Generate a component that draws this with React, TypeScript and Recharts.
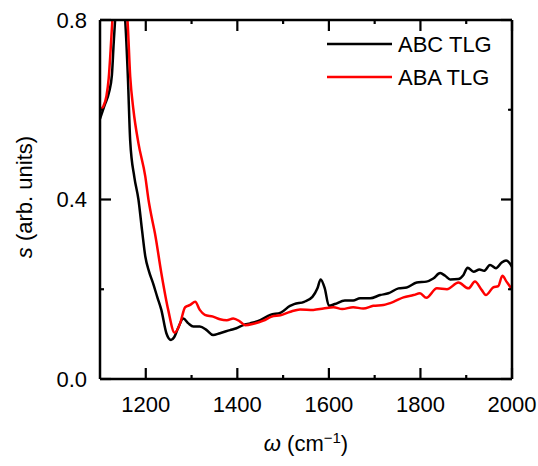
import { LineChart, Line, XAxis, YAxis, Legend, ReferenceDot } from "recharts";

// ABC-stacked trilayer graphene
const abcW = [
  1100, 1110, 1120, 1126, 1130, 1133, 1140, 1148, 1155, 1161, 1166, 1175,
  1184, 1192, 1199, 1207, 1216, 1225, 1234, 1245, 1255, 1262, 1270, 1282, 1293,
  1304, 1318, 1333, 1347, 1362, 1384, 1398, 1413, 1428, 1450, 1472, 1495, 1515,
  1524, 1546, 1564, 1575, 1582, 1591, 1600, 1613, 1635, 1653, 1668, 1690, 1712,
  1730, 1752, 1770, 1792, 1813, 1828, 1843, 1854, 1865, 1883, 1894, 1903, 1916,
  1929, 1939, 1952, 1965, 1977, 1987, 1995, 2000,
];
const abcS = [
  0.58, 0.61, 0.64, 0.677, 0.75, 0.8, 0.87, 0.86, 0.8, 0.67, 0.53, 0.45,
  0.4, 0.33, 0.273, 0.24, 0.213, 0.183, 0.154, 0.102, 0.087, 0.093, 0.112, 0.135,
  0.124, 0.117, 0.117, 0.109, 0.098, 0.102, 0.109, 0.113, 0.12, 0.124, 0.131,
  0.143, 0.148, 0.163, 0.167, 0.172, 0.183, 0.202, 0.222, 0.202, 0.163, 0.167,
  0.175, 0.175, 0.18, 0.18, 0.187, 0.191, 0.202, 0.204, 0.215, 0.217, 0.224,
  0.236, 0.23, 0.222, 0.223, 0.232, 0.248, 0.239, 0.244, 0.241, 0.254, 0.247,
  0.259, 0.264, 0.258, 0.25,
];

// ABA-stacked trilayer graphene
const abaW = [
  1100, 1107, 1114, 1119, 1123, 1127, 1135, 1145, 1155, 1160, 1166, 1173,
  1184, 1199, 1206, 1213, 1220, 1234, 1249, 1263, 1275, 1286, 1297, 1308, 1318,
  1329, 1347, 1362, 1377, 1391, 1406, 1417, 1435, 1457, 1475, 1494, 1516, 1537,
  1566, 1588, 1610, 1629, 1653, 1675, 1697, 1719, 1741, 1763, 1785, 1799, 1813,
  1836, 1858, 1883, 1905, 1919, 1934, 1943, 1959, 1970, 1979, 1988, 1997, 2000,
];
const abaS = [
  0.6, 0.607, 0.63, 0.67, 0.73, 0.8, 0.88, 0.9, 0.84, 0.8, 0.674, 0.6,
  0.525, 0.451, 0.399, 0.36, 0.325, 0.236, 0.154, 0.103, 0.124, 0.16, 0.165,
  0.172, 0.154, 0.143, 0.139, 0.133, 0.131, 0.135, 0.128, 0.12, 0.123, 0.13,
  0.139, 0.142, 0.15, 0.155, 0.154, 0.157, 0.16, 0.156, 0.16, 0.157, 0.163,
  0.165, 0.172, 0.182, 0.187, 0.191, 0.181, 0.202, 0.2, 0.215, 0.202, 0.217,
  0.198, 0.187, 0.204, 0.207, 0.23, 0.217, 0.204, 0.2,
];

const xMajor = [1200, 1400, 1600, 1800, 2000];
const xMinor = [1300, 1500, 1700, 1900];
const yMajor = [0, 0.4, 0.8];
const yMinor = [0.2, 0.6];
const X_MIN = 1100;
const X_MAX = 2000;
const Y_MIN = 0;
const Y_MAX = 0.8;

const series = [
  { name: "ABC TLG", color: "#000000", w: abcW, s: abcS },
  { name: "ABA TLG", color: "#ff0000", w: abaW, s: abaS },
];

const FONT = "'Liberation Sans', Arial, sans-serif";
const axisLine = { stroke: "#000", strokeWidth: 2.5 };
const tickFont = { fill: "#000", fontSize: 22, fontFamily: FONT };

// inward tick mark drawn from the point the scales give us
const tickMark = (dx: number, dy: number) => (p: any) => (
  <line x1={p.cx} y1={p.cy} x2={p.cx + dx} y2={p.cy + dy} stroke="#000" strokeWidth={2.2} />
);

function LegendBox() {
  return (
    <svg width={190} height={70}>
      {series.map((d, i) => (
        <g key={d.name}>
          <line x1={7} x2={72} y1={14 + i * 33} y2={14 + i * 33} stroke={d.color} strokeWidth={2.5} />
          <text x={78} y={22 + i * 33} fontSize={22} fontFamily={FONT} fill="#000">
            {d.name}
          </text>
        </g>
      ))}
    </svg>
  );
}

export default function App() {
  const marks: any[] = [];
  const add = (x: number, y: number, dx: number, dy: number, k: string) =>
    marks.push(
      <ReferenceDot
        key={k}
        xAxisId="bottom"
        yAxisId="left"
        x={x}
        y={y}
        r={1}
        ifOverflow="visible"
        shape={tickMark(dx, dy)}
      />
    );
  xMajor.forEach((v) => {
    add(v, Y_MIN, 0, -11, "bM" + v);
    add(v, Y_MAX, 0, 11, "tM" + v);
  });
  xMinor.forEach((v) => {
    add(v, Y_MIN, 0, -4, "bm" + v);
    add(v, Y_MAX, 0, 4, "tm" + v);
  });
  yMajor.forEach((v) => {
    add(X_MIN, v, 11, 0, "lM" + v);
    add(X_MAX, v, -11, 0, "rM" + v);
  });
  yMinor.forEach((v) => {
    add(X_MIN, v, 4, 0, "lm" + v);
    add(X_MAX, v, -4, 0, "rm" + v);
  });

  return (
    <div style={{ position: "absolute", left: 0, top: 0, width: 538, height: 466, background: "#fff" }}>
      <LineChart
        width={538}
        height={466}
        margin={{ top: 19, right: 25, bottom: 86, left: 99 }}
      >
        <XAxis
          xAxisId="bottom"
          type="number"
          dataKey="w"
          domain={[X_MIN, X_MAX]}
          ticks={xMajor}
          interval={0}
          allowDataOverflow
          height={1}
          tickSize={0}
          tickMargin={17}
          tickLine={false}
          axisLine={axisLine}
          tick={tickFont}
        />
        <XAxis
          xAxisId="top"
          orientation="top"
          type="number"
          domain={[X_MIN, X_MAX]}
          allowDataOverflow
          height={1}
          tickLine={false}
          axisLine={axisLine}
          tick={false}
        />
        <YAxis
          yAxisId="left"
          type="number"
          domain={[Y_MIN, Y_MAX]}
          ticks={yMajor}
          interval={0}
          allowDataOverflow
          width={1}
          tickSize={0}
          tickMargin={13}
          tickLine={false}
          axisLine={axisLine}
          tick={tickFont}
          tickFormatter={(v: number) => v.toFixed(1)}
        />
        <YAxis
          yAxisId="right"
          orientation="right"
          type="number"
          domain={[Y_MIN, Y_MAX]}
          allowDataOverflow
          width={1}
          tickLine={false}
          axisLine={axisLine}
          tick={false}
        />
        <Legend
          layout="horizontal"
          verticalAlign="middle"
          align="center"
          wrapperStyle={{ position: "absolute", left: 320, top: 30, width: 190, height: 70 }}
          content={() => <LegendBox />}
        />
        {series.map((d) => (
          <Line
            key={d.name}
            xAxisId="bottom"
            yAxisId="left"
            name={d.name}
            data={d.w.map((w, i) => ({ w, s: d.s[i] }))}
            dataKey="s"
            type="monotone"
            stroke={d.color}
            strokeWidth={2.5}
            dot={false}
            activeDot={false}
            isAnimationActive={false}
          />
        ))}
        {marks}
        <text x={32} y={197} transform="rotate(-90 32 197)" textAnchor="middle" fontSize={22} fontFamily={FONT} fill="#000">
          <tspan fontStyle="italic">s</tspan> (arb. units)
        </text>
        <text x={306} y={451} textAnchor="middle" fontSize={22} fontFamily={FONT} fill="#000">
          <tspan fontStyle="italic">ω</tspan> (cm
          <tspan dy={-8} fontSize={15}>−1</tspan>
          <tspan dy={8}>)</tspan>
        </text>
      </LineChart>
    </div>
  );
}
